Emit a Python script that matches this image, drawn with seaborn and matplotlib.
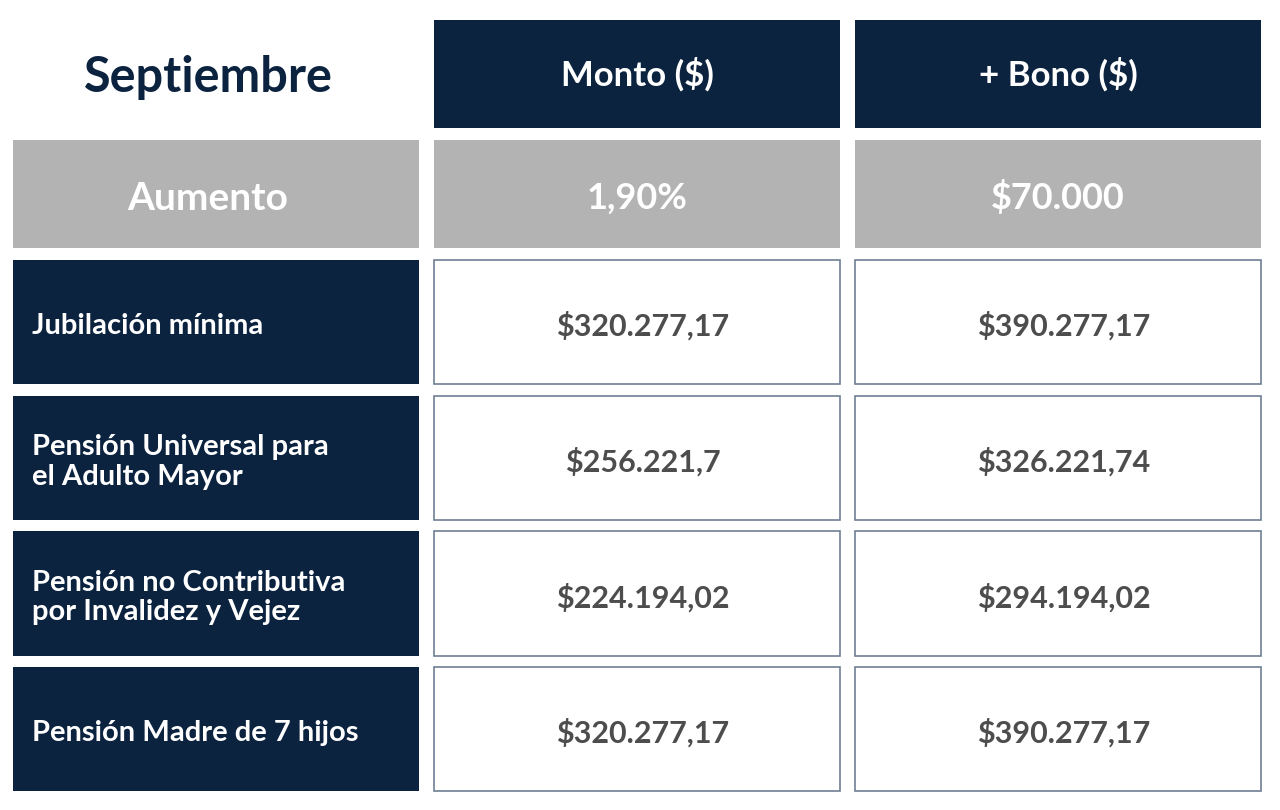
import matplotlib
matplotlib.use("Agg")
import matplotlib.pyplot as plt
import seaborn as sns
from matplotlib.patches import Rectangle

sns.set_theme(style="white")
plt.rcParams['font.family'] = ['Lato', 'DejaVu Sans']

title = "Septiembre"
col_headers = ["Monto ($)", "+ Bono ($)"]
aumento_label = "Aumento"
aumento_values = ["1,90%", "$70.000"]
categories = ["Jubilación mínima", "Pensión Universal para\nel Adulto Mayor",
              "Pensión no Contributiva\npor Invalidez y Vejez", "Pensión Madre de 7 hijos"]
montos = ["$320.277,17", "$256.221,7", "$224.194,02", "$320.277,17"]
bonos = ["$390.277,17", "$326.221,74", "$294.194,02", "$390.277,17"]

NAVY = "#0c2340"
GRAY = "#b3b3b3"
TXT = "#4d4d4d"

fig = plt.figure(figsize=(12.8, 8.1), dpi=100)
ax = fig.add_axes([0, 0, 1, 1])
ax.set_xlim(0, 1280); ax.set_ylim(810, 0); ax.axis("off")

cols = [(13, 419), (434, 840), (855, 1261)]
rows = [(20, 128), (140, 248), (260, 384), (396, 520), (531, 656), (667, 791)]

def cell(c, r, fc, ec=None, lw=0):
    x0, x1 = cols[c]; y0, y1 = rows[r]
    ax.add_patch(Rectangle((x0, y0), x1 - x0, y1 - y0, facecolor=fc,
                           edgecolor=ec if ec else fc, linewidth=lw))
    return (x0 + x1) / 2, (y0 + y1) / 2

cx, cy = cell(0, 0, "white")
ax.text(cx - 8, cy + 4, title, ha="center", va="center", fontsize=35, fontweight="bold", color=NAVY)
for i, h in enumerate(col_headers):
    cx, cy = cell(i + 1, 0, NAVY)
    ax.text(cx, cy, h, ha="center", va="center", fontsize=25, fontweight="bold", color="white")

cx, cy = cell(0, 1, GRAY)
ax.text(cx - 8, cy + 4, aumento_label, ha="center", va="center", fontsize=28, fontweight="bold", color="white")
for i, v in enumerate(aumento_values):
    cx, cy = cell(i + 1, 1, GRAY)
    ax.text(cx, cy + 4, v, ha="center", va="center", fontsize=26, fontweight="bold", color="white")

for j, (cat, m, b) in enumerate(zip(categories, montos, bonos)):
    r = j + 2
    cx, cy = cell(0, r, NAVY)
    ax.text(cols[0][0] + 19, cy + 4, cat, ha="left", va="center", fontsize=21, fontweight="bold",
            color="white", linespacing=1.15)
    for i, v in enumerate([m, b]):
        cx, cy = cell(i + 1, r, "white", ec="#6f7f93", lw=1.2)
        ax.text(cx + 6, cy + 4, v, ha="center", va="center", fontsize=22, fontweight="bold", color=TXT)

fig.savefig("out.png", dpi=100, facecolor="white")
